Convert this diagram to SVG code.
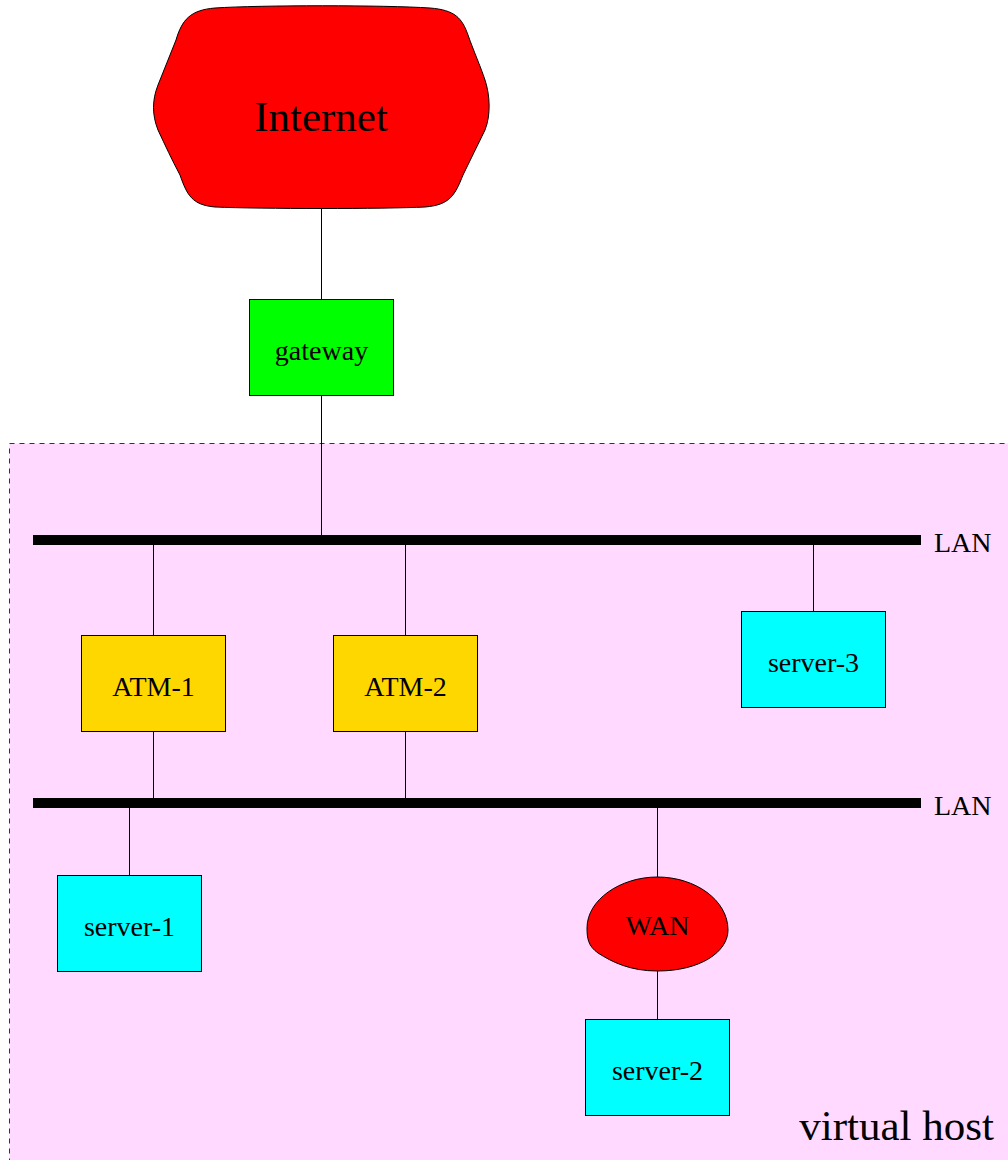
<svg xmlns="http://www.w3.org/2000/svg" width="1008" height="1160" viewBox="0 0 1008 1160">
<style>
text{font-family:"Liberation Serif","Times New Roman",serif;fill:#000}
.lbl{font-size:28px;text-anchor:middle}
.box{stroke:#000;stroke-width:1}
.srv{fill:#00ffff}
.atm{fill:#ffd700}
.cloud{fill:#ff0000;stroke:#000;stroke-width:1}
.wire{stroke:#000;stroke-width:1;fill:none}
.lan{stroke:#000;stroke-width:10}
</style>
<g id="virtual-host">
<rect x="9.5" y="443.5" width="1000" height="720" fill="#ffd9ff" stroke="#333" stroke-width="1" stroke-dasharray="5,5"/>
<text x="994" y="1140" font-size="43" text-anchor="end">virtual host</text>
</g>
<g id="connectors">
<line class="wire" x1="321.5" y1="208" x2="321.5" y2="299"/>
<line class="wire" x1="321.5" y1="395" x2="321.5" y2="535"/>
<line class="wire" x1="153.5" y1="545" x2="153.5" y2="635"/>
<line class="wire" x1="405.5" y1="545" x2="405.5" y2="635"/>
<line class="wire" x1="813.5" y1="545" x2="813.5" y2="611"/>
<line class="wire" x1="153.5" y1="731" x2="153.5" y2="798"/>
<line class="wire" x1="405.5" y1="731" x2="405.5" y2="798"/>
<line class="wire" x1="129.5" y1="808" x2="129.5" y2="875"/>
<line class="wire" x1="657.5" y1="808" x2="657.5" y2="877"/>
<line class="wire" x1="657.5" y1="971" x2="657.5" y2="1019"/>
</g>
<g id="lan-1">
<line class="lan" x1="33" y1="540" x2="921" y2="540"/>
<text x="934" y="552" font-size="28">LAN</text>
</g>
<g id="lan-2">
<line class="lan" x1="33" y1="803" x2="921" y2="803"/>
<text x="934" y="815" font-size="28">LAN</text>
</g>
<g id="internet">
<path class="cloud" d="M215,8 C260,5 385,5 430,8 C455,10 462,18 468,35 C474,52 480,65 485,80 C490,95 491,115 485,130 C478,145 470,160 463,175 C455,195 450,205 425,207 C385,209 260,209 215,207 C192,205 187,195 180,175 C172,160 165,145 158,130 C152,115 152,100 158,85 C164,70 170,55 176,40 C182,20 190,10 215,8 Z"/>
<text x="321" y="131" font-size="43" text-anchor="middle">Internet</text>
</g>
<g id="gateway">
<rect class="box" x="249.5" y="299.5" width="144" height="96" fill="#00ff00"/>
<text class="lbl" x="321.5" y="360">gateway</text>
</g>
<g id="atm-1">
<rect class="box atm" x="81.5" y="635.5" width="144" height="96"/>
<text class="lbl" x="153.5" y="696">ATM-1</text>
</g>
<g id="atm-2">
<rect class="box atm" x="333.5" y="635.5" width="144" height="96"/>
<text class="lbl" x="405.5" y="696">ATM-2</text>
</g>
<g id="server-3">
<rect class="box srv" x="741.5" y="611.5" width="144" height="96"/>
<text class="lbl" x="813.5" y="672">server-3</text>
</g>
<g id="server-1">
<rect class="box srv" x="57.5" y="875.5" width="144" height="96"/>
<text class="lbl" x="129.5" y="936">server-1</text>
</g>
<g id="wan">
<path class="cloud" d="M657.5,877 C695,877 728,900 728,930 C728,952 700,971 657.5,971 C630,971 612,962 598,953 C588,946 587,938 587,928 C587,900 620,877 657.5,877 Z"/>
<text class="lbl" x="657.5" y="935">WAN</text>
</g>
<g id="server-2">
<rect class="box srv" x="585.5" y="1019.5" width="144" height="96"/>
<text class="lbl" x="657.5" y="1080">server-2</text>
</g>
</svg>
